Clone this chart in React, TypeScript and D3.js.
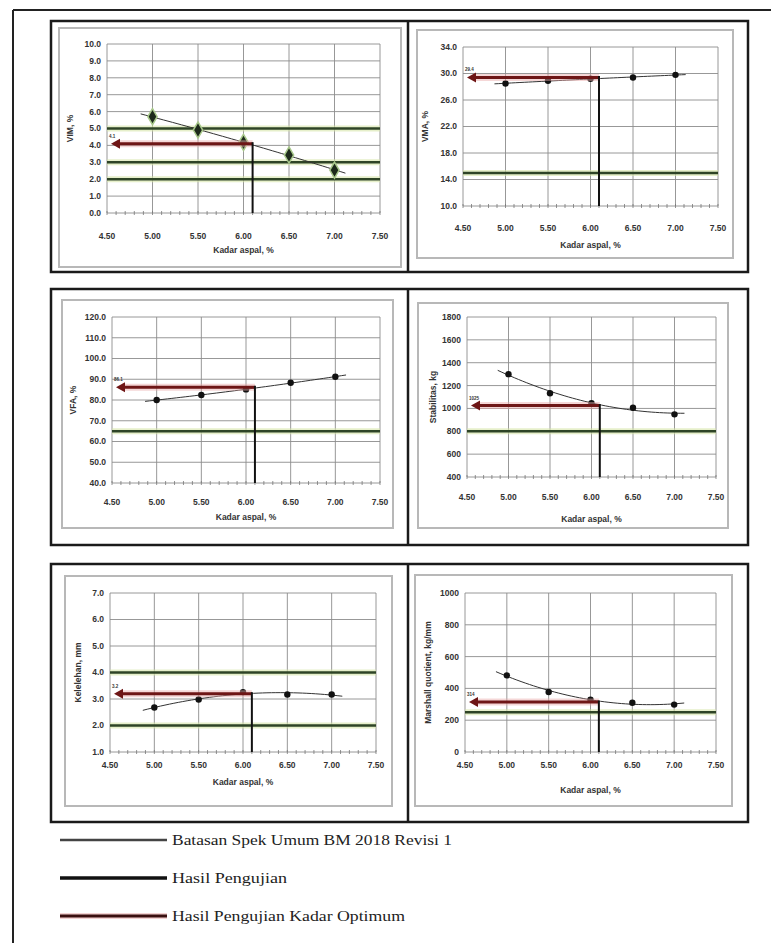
import React from 'react';
import * as d3 from 'd3';

// ==== data

const kadarAspal = [5.0, 5.5, 6.0, 6.5, 7.0];
const kadarTicks = [4.5, 5.0, 5.5, 6.0, 6.5, 7.0, 7.5];
const kadarOptimum = 6.1;
const trendRange = [4.87, 7.15];

const vimValues = [5.7, 4.91, 4.18, 3.43, 2.54];
const vimTicks = [0, 1, 2, 3, 4, 5, 6, 7, 8, 9, 10];
const vimSpec = [5.0, 3.0, 2.0];
const vimOptimum = 4.1;

const vmaValues = [28.5, 28.9, 29.2, 29.4, 29.8];
const vmaTicks = [10, 14, 18, 22, 26, 30, 34];
const vmaSpec = [15];
const vmaOptimum = 29.4;

const vfaValues = [80.0, 82.4, 85.1, 88.3, 91.2];
const vfaTicks = [40, 50, 60, 70, 80, 90, 100, 110, 120];
const vfaSpec = [65];
const vfaOptimum = 86.1;

const stabValues = [1300, 1133, 1045, 1006, 948];
const stabTicks = [400, 600, 800, 1000, 1200, 1400, 1600, 1800];
const stabSpec = [800];
const stabOptimum = 1025;

const flowValues = [2.68, 2.98, 3.26, 3.17, 3.17];
const flowTicks = [1, 2, 3, 4, 5, 6, 7];
const flowSpec = [4.0, 2.0];
const flowOptimum = 3.2;

const mqValues = [482, 377, 329, 310, 298];
const mqTicks = [0, 200, 400, 600, 800, 1000];
const mqSpec = [250];
const mqOptimum = 314;

const legendLabels = [
    'Batasan Spek Umum BM 2018 Revisi 1',
    'Hasil Pengujian',
    'Hasil Pengujian Kadar Optimum'
];

// ==== helpers

// least squares 2nd order polynomial, like the excel trendline
function quadFit(xs: number[], ys: number[]) {
    const m = 6;
    const s = [0, 0, 0, 0, 0];
    const t = [0, 0, 0];
    xs.forEach((x0, i) => {
        const x = x0 - m;
        for (let k = 0; k < 5; k++) s[k] += Math.pow(x, k);
        for (let k = 0; k < 3; k++) t[k] += ys[i] * Math.pow(x, k);
    });
    const A = [
        [s[0], s[1], s[2], t[0]],
        [s[1], s[2], s[3], t[1]],
        [s[2], s[3], s[4], t[2]]
    ];
    for (let i = 0; i < 3; i++) {
        for (let j = i + 1; j < 3; j++) {
            const f = A[j][i] / A[i][i];
            for (let k = i; k < 4; k++) A[j][k] -= f * A[i][k];
        }
    }
    const c = [0, 0, 0];
    for (let i = 2; i >= 0; i--) {
        let v = A[i][3];
        for (let k = i + 1; k < 3; k++) v -= A[i][k] * c[k];
        c[i] = v / A[i][i];
    }
    return (x: number) => c[0] + c[1] * (x - m) + c[2] * (x - m) * (x - m);
}

const tickFont = { fontFamily: 'Liberation Sans, Arial, sans-serif', fontWeight: 700, fontSize: 8.5, fill: '#333' };

function Panel(props: any) {
    const { values, ticks, spec, optimum, fmt, yTitle, layout, diamond } = props;
    const [fx0, fy0, fx1, fy1] = layout.frame;
    const [px0, px1, py0, py1] = layout.plot;

    const x = d3.scaleLinear().domain([kadarTicks[0], kadarTicks[kadarTicks.length - 1]]).range([px0, px1]);
    const y = d3.scaleLinear().domain([ticks[0], ticks[ticks.length - 1]]).range([py1, py0]);

    const fit = quadFit(kadarAspal, values);
    const trendX = d3.range(trendRange[0], trendRange[1] + 0.001, 0.05);
    const trend = d3.line<number>().x((d) => x(d)).y((d) => y(fit(d)))(trendX);

    const minor = d3.range(kadarTicks[0], kadarTicks[kadarTicks.length - 1] + 0.001, 0.1);
    const diamondPath = d3.symbol(d3.symbolDiamond, 75)();

    const ay = y(optimum);
    const ax = x(kadarOptimum);
    const tip = px0 + 4;

    return (
        <g>
            <rect x={fx0} y={fy0} width={fx1 - fx0} height={fy1 - fy0} fill="none" stroke="#b8b8b8" strokeWidth={2} />

            {ticks.map((t: number) => (
                <line key={'h' + t} x1={px0} x2={px1} y1={y(t)} y2={y(t)} stroke="#8c8c8c" strokeWidth={0.9} />
            ))}
            {kadarTicks.map((t) => (
                <line key={'v' + t} x1={x(t)} x2={x(t)} y1={py0} y2={py1} stroke="#8c8c8c" strokeWidth={0.9} />
            ))}
            {minor.map((t) => (
                <line key={'m' + t} x1={x(t)} x2={x(t)} y1={py1 - 2} y2={py1 + 2} stroke="#777" strokeWidth={0.8} />
            ))}

            {spec.map((s: number) => (
                <g key={'s' + s}>
                    <line x1={px0} x2={px1} y1={y(s)} y2={y(s)} stroke="#d6e6a8" strokeWidth={6} opacity={0.6} />
                    <line x1={px0} x2={px1} y1={y(s)} y2={y(s)} stroke="#2e4426" strokeWidth={2.5} />
                </g>
            ))}

            <path d={trend || ''} fill="none" stroke="#333" strokeWidth={1} />

            {kadarAspal.map((k, i) => diamond ? (
                <path key={'p' + k} d={diamondPath || ''} transform={`translate(${x(k)},${y(values[i])})`}
                    fill="#1d2a1b" stroke="#a7c78a" strokeWidth={1.5} />
            ) : (
                <circle key={'p' + k} cx={x(k)} cy={y(values[i])} r={3.2} fill="#111" />
            ))}

            <line x1={ax} x2={tip + 6} y1={ay} y2={ay} stroke="#e9a8a8" strokeWidth={7} opacity={0.45} />
            <line x1={ax} x2={tip + 6} y1={ay} y2={ay} stroke="#6e1616" strokeWidth={3} />
            <polygon points={`${tip},${ay} ${tip + 9},${ay - 5} ${tip + 9},${ay + 5}`} fill="#6e1616" />
            <line x1={ax} x2={ax} y1={ay - 1.5} y2={py1} stroke="#111" strokeWidth={2} />
            <text x={px0 + 2} y={ay - 6} textAnchor="start" style={{ ...tickFont, fontSize: 4.5 }}>{fmt(optimum)}</text>

            {ticks.map((t: number) => (
                <text key={'yl' + t} x={px0 - 6} y={y(t)} dy="0.35em" textAnchor="end" style={tickFont}>{fmt(t)}</text>
            ))}
            {kadarTicks.map((t) => (
                <text key={'xl' + t} x={x(t)} y={py1 + layout.tickDy} dy="0.35em" textAnchor="middle" style={tickFont}>{t.toFixed(2)}</text>
            ))}
            <text x={(px0 + px1) / 2} y={py1 + layout.titleDy} dy="0.35em" textAnchor="middle" style={tickFont}>Kadar aspal, %</text>
            <text transform={`translate(${layout.yTitleX},${(py0 + py1) / 2}) rotate(-90)`} dy="0.35em" textAnchor="middle" style={tickFont}>{yTitle}</text>
        </g>
    );
}

// ====

const f1 = d3.format('.1f');
const f0 = d3.format('d');

const panels = [
    { key: 'vim', values: vimValues, ticks: vimTicks, spec: vimSpec, optimum: vimOptimum, fmt: f1, yTitle: 'VIM, %', diamond: true,
      layout: { frame: [59, 28, 401, 267], plot: [107, 380, 44, 213], tickDy: 23, titleDy: 37, yTitleX: 70 } },
    { key: 'vma', values: vmaValues, ticks: vmaTicks, spec: vmaSpec, optimum: vmaOptimum, fmt: f1, yTitle: 'VMA, %',
      layout: { frame: [417, 30, 733, 258], plot: [463, 718, 47, 206], tickDy: 22, titleDy: 39, yTitleX: 425 } },
    { key: 'vfa', values: vfaValues, ticks: vfaTicks, spec: vfaSpec, optimum: vfaOptimum, fmt: f1, yTitle: 'VFA, %',
      layout: { frame: [62, 300, 393, 528], plot: [112, 380, 317, 483], tickDy: 19, titleDy: 34, yTitleX: 73 } },
    { key: 'stab', values: stabValues, ticks: stabTicks, spec: stabSpec, optimum: stabOptimum, fmt: f0, yTitle: 'Stabilitas, kg',
      layout: { frame: [418, 303, 728, 528], plot: [467, 716, 317, 477], tickDy: 20, titleDy: 42, yTitleX: 433 } },
    { key: 'flow', values: flowValues, ticks: flowTicks, spec: flowSpec, optimum: flowOptimum, fmt: f1, yTitle: 'Kelelehan, mm',
      layout: { frame: [65, 576, 392, 806], plot: [110, 376, 593, 752], tickDy: 13, titleDy: 30, yTitleX: 78 } },
    { key: 'mq', values: mqValues, ticks: mqTicks, spec: mqSpec, optimum: mqOptimum, fmt: f0, yTitle: 'Marshall quotient, kg/mm',
      layout: { frame: [415, 575, 732, 806], plot: [465, 716, 593, 752], tickDy: 13, titleDy: 38, yTitleX: 428 } }
];

const rows = [[21, 272], [289, 545], [564, 822]];
const legendStyles = [
    { stroke: '#444', width: 2.6, y: 840, len: 280 },
    { stroke: '#111', width: 3.4, y: 878, len: 115 },
    { stroke: '#3a1010', width: 3.2, y: 916, len: 233 }
];

export default function App() {
    return (
        <svg width={771} height={943} style={{ position: 'absolute', left: 0, top: 0, background: '#fff' }}>
            <line x1={13} x2={771} y1={10} y2={10} stroke="#222" strokeWidth={2} />
            <line x1={13} x2={13} y1={10} y2={943} stroke="#222" strokeWidth={2} />

            {rows.map(([t, b]) => (
                <g key={'r' + t}>
                    <rect x={51} y={t} width={697} height={b - t} fill="none" stroke="#1a1a1a" strokeWidth={2.5} />
                    <line x1={408} x2={408} y1={t} y2={b} stroke="#1a1a1a" strokeWidth={2.5} />
                </g>
            ))}

            {panels.map((p) => <Panel key={p.key} {...p} />)}

            {legendLabels.map((label, i) => {
                const s = legendStyles[i];
                return (
                    <g key={label}>
                        {i === 2 && <line x1={60} x2={167} y1={s.y} y2={s.y} stroke="#e9a8a8" strokeWidth={6} opacity={0.5} />}
                        <line x1={60} x2={167} y1={s.y} y2={s.y} stroke={s.stroke} strokeWidth={s.width} />
                        <text x={172} y={s.y + 5} textLength={s.len} lengthAdjust="spacingAndGlyphs"
                            style={{ fontFamily: 'Liberation Serif, Times New Roman, serif', fontSize: 15, fill: '#222' }}>
                            {label}
                        </text>
                    </g>
                );
            })}
        </svg>
    );
}
